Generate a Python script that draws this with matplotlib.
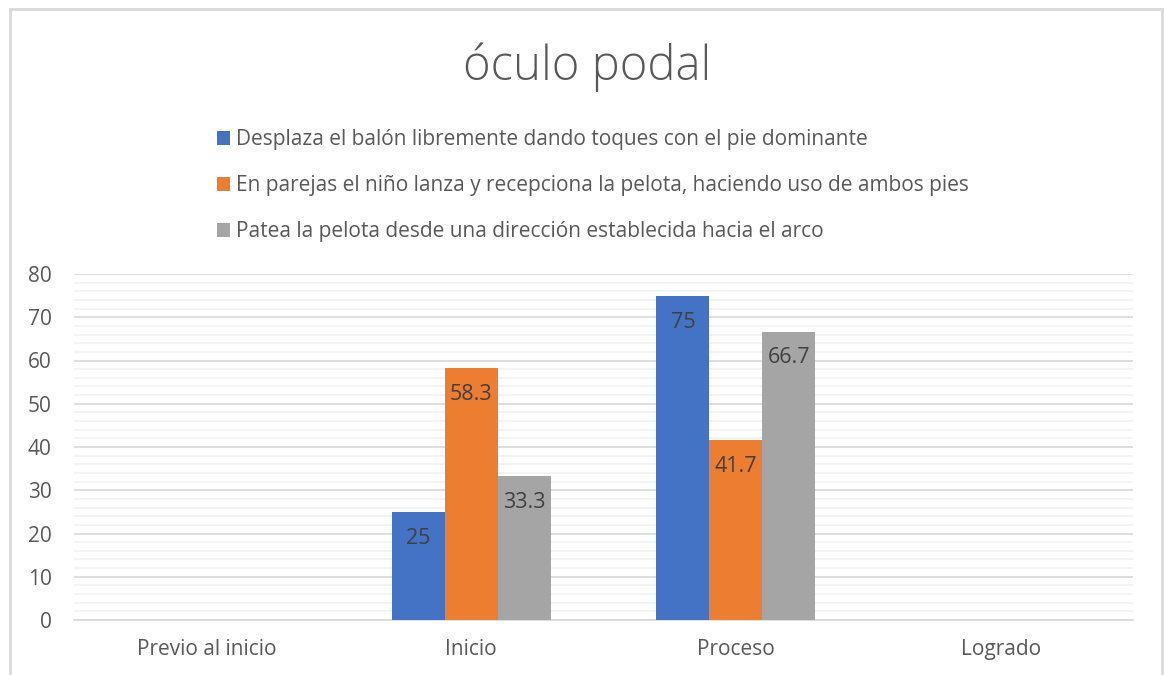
import numpy as np
import matplotlib
matplotlib.use('Agg')
import matplotlib.pyplot as plt
from matplotlib.patches import Rectangle

# data
categories = ['Previo al inicio', 'Inicio', 'Proceso', 'Logrado']
series_names = ['Desplaza el balón libremente dando toques con el pie dominante',
                'En parejas el niño lanza y recepciona la pelota, haciendo uso de ambos pies',
                'Patea la pelota desde una dirección establecida hacia el arco']
desplaza = [0, 25, 75, 0]
parejas = [0, 58.3, 41.7, 0]
patea = [0, 33.3, 66.7, 0]
series_vals = [desplaza, parejas, patea]
colors = ['#4472C4', '#ED7D31', '#A5A5A5']

plt.rcParams['font.family'] = ['Open Sans', 'DejaVu Sans']
txt = '#595959'

fig = plt.figure(figsize=(11.65, 6.75), dpi=100)
fig.patches.append(Rectangle((10/1165, -0.1), 1152/1165, 1.1 - 9/675,
                             transform=fig.transFigure, fill=False,
                             edgecolor='#d9d9d9', linewidth=2))

ax = fig.add_axes([74/1165, 1 - 620/675, 1059/1165, 346/675])

x = np.arange(len(categories))
w = 0.2
for i, (vals, c) in enumerate(zip(series_vals, colors)):
    pos = x + (i - 1) * w
    bars = ax.bar(pos, vals, w, color=c, label=series_names[i], zorder=3)
    for b, v in zip(bars, vals):
        if v > 0:
            ax.annotate(f'{v:g}', (b.get_x() + b.get_width() / 2, v),
                        xytext=(0, -19), textcoords='offset points',
                        ha='center', va='center', fontsize=15.5, color='#404040', zorder=4)

ax.set_xlim(-0.5, 3.5)
ax.set_ylim(0, 80)
ax.set_yticks(np.arange(0, 81, 10))
ax.set_yticks(np.arange(0, 81, 2), minor=True)
ax.grid(axis='y', which='major', color='#d9d9d9', linewidth=1.2, zorder=0)
ax.grid(axis='y', which='minor', color='#f2f2f2', linewidth=1.2, zorder=0)
ax.set_xticks(x)
ax.set_xticklabels(categories)
ax.tick_params(axis='both', which='both', length=0, labelsize=15, labelcolor=txt)
ax.tick_params(axis='x', pad=14)
ax.tick_params(axis='y', pad=16)
for s in ['top', 'right', 'left']:
    ax.spines[s].set_visible(False)
ax.spines['bottom'].set_color('#d9d9d9')
ax.spines['bottom'].set_linewidth(1.2)

fig.text(587/1165, 1 - 67/675, 'óculo podal', ha='center', va='center',
         fontsize=34, color=txt, fontweight='light')

leg = fig.legend(loc='upper left', bbox_to_anchor=(209/1165, 1 - 121/675),
                 frameon=False, fontsize=15, labelcolor=txt,
                 handlelength=0.6, handleheight=0.6, handletextpad=0.3,
                 labelspacing=1.2, borderaxespad=0)

fig.savefig('out.png', dpi=100)
